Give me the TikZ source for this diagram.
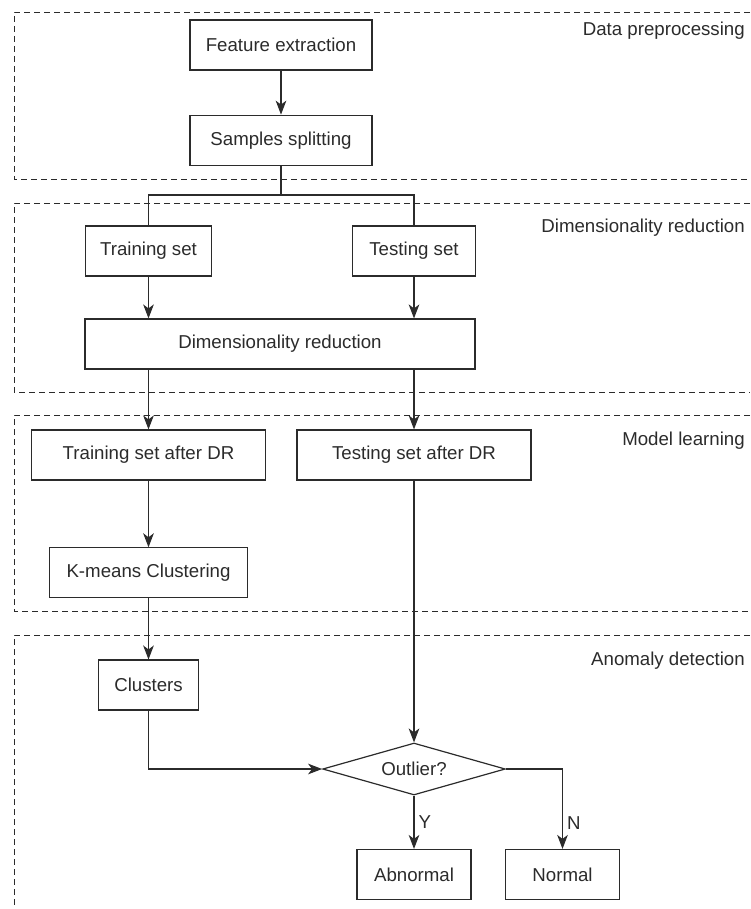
\documentclass[tikz,border=0pt]{standalone}
\usepackage{fontspec}
\setmainfont{Liberation Sans}
\usepackage{tikz}
\usetikzlibrary{shapes.geometric, arrows.meta, positioning, calc}

\definecolor{ink}{HTML}{2B2B2B}

\begin{document}
\begin{tikzpicture}[x=0.75pt, y=-0.75pt, node distance=33pt,
    font=\fontsize{14}{16}\selectfont, text=ink,
    stage/.style={rectangle, draw=ink, line width=0.9pt, minimum height=37.5pt, text centered},
    decision/.style={diamond, draw=ink, line width=0.9pt, aspect=3.5, minimum width=137pt, minimum height=39pt, inner sep=0pt},
    region/.style={draw=ink, line width=0.7pt, dash pattern=on 4.5pt off 3pt},
    tag/.style={anchor=base east, inner sep=0pt},
    flow/.style={draw=ink, line width=0.8pt},
    arr/.style={flow, -{Stealth[length=10.5pt, width=8pt, inset=3pt]}}]

    \useasboundingbox (0,0) rectangle (750,909);

    % stage frames
    \draw [region] (750,12) -- (14,12) -- (14,179) -- (750,179);
    \draw [region] (750,203) -- (14,203) -- (14,392) -- (750,392);
    \draw [region] (750,415) -- (14,415) -- (14,611) -- (750,611);
    \draw [region] (750,635) -- (14,635) -- (14,909);

    \node [tag] (t1) at (745,36) {Data preprocessing};
    \node [tag] (t2) at (745,233) {Dimensionality reduction};
    \node [tag] (t3) at (745,445) {Model learning};
    \node [tag] (t4) at (745,665) {Anomaly detection};

    % boxes
    \node [stage, minimum width=136.5pt] (feat) at (281,45) {Feature extraction};
    \node [stage, minimum width=136.5pt, below=33pt of feat] (split) {Samples splitting};
    \node [stage, minimum width=95pt] (train) at (148.5,251) {Training set};
    \node [stage, minimum width=92pt] (test) at (414,251) {Testing set};
    \node [stage, minimum width=292.5pt] (dimred) at (280,344) {Dimensionality reduction};
    \node [stage, minimum width=175.5pt] (trainDR) at (148.5,455) {Training set after DR};
    \node [stage, minimum width=175.5pt] (testDR) at (414,455) {Testing set after DR};
    \node [stage, minimum width=148pt, below=50pt of trainDR] (kmeans) {K-means Clustering};
    \node [stage, minimum width=75pt, below=45.75pt of kmeans] (clusters) {Clusters};
    \node [decision] (outlier) at (414,769) {Outlier?};
    \node [stage, minimum width=85.5pt] (abnormal) at (414,874.5) {Abnormal};
    \node [stage, minimum width=85pt] (normal) at (562.5,874.5) {Normal};

    \coordinate (fork) at (281,195);

    % connectors
    \draw [arr] (feat) -- (split);
    \draw [flow] (split.south) -- (fork) -| (train.north);
    \draw [flow] (fork) -| (test.north);
    \draw [arr] (train.south) -- (train.south |- dimred.north);
    \draw [arr] (test.south) -- (test.south |- dimred.north);
    \draw [arr] (dimred.south -| trainDR.north) -- (trainDR.north);
    \draw [arr] (dimred.south -| testDR.north) -- (testDR.north);
    \draw [arr] (trainDR) -- (kmeans);
    \draw [arr] (kmeans) -- (clusters);
    \draw [arr] (clusters.south) |- (outlier.west);
    \draw [arr] (testDR.south) -- (outlier.north);
    \draw [arr] (outlier.south) -- node[right, inner sep=3pt]{Y} (abnormal.north);
    \draw [arr] (outlier.east) -| node[pos=0.84, right, inner sep=3pt]{N} (normal.north);
\end{tikzpicture}
\end{document}
